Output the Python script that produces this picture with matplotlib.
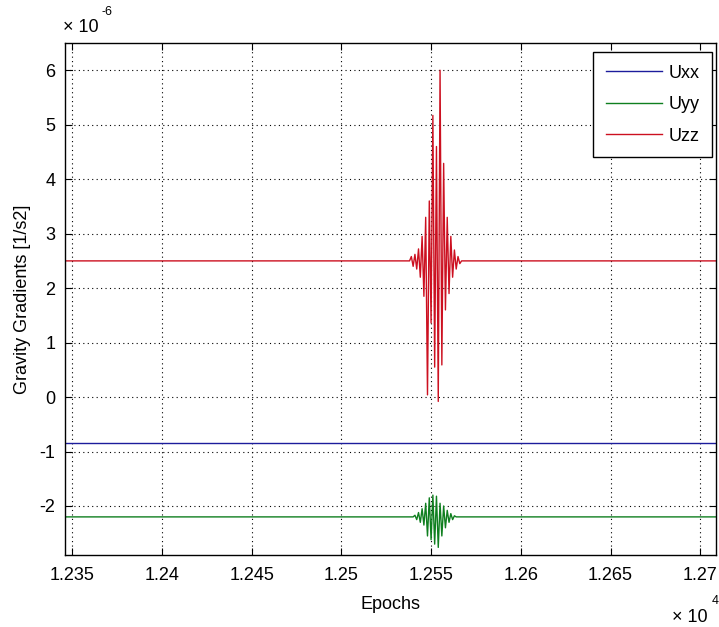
import numpy as np
import matplotlib
matplotlib.use('Agg')
import matplotlib.pyplot as plt
from matplotlib.ticker import FuncFormatter

plt.rcParams['font.family'] = ['Liberation Sans', 'DejaVu Sans']

# epochs and gradients (values given in units of 1e-6 1/s2)
uxx_epochs = [12300, 12750]
uxx_vals = [-0.84, -0.84]

uyy_epochs = [12300, 12540, 12541, 12542, 12543, 12544, 12545, 12546, 12547,
              12548, 12549, 12550, 12551, 12552, 12553, 12554, 12555, 12556,
              12557, 12558, 12559, 12560, 12561, 12562, 12563, 12564, 12750]
uyy_vals = [-2.20, -2.20, -2.17, -2.25, -2.12, -2.30, -2.05, -2.35, -1.95,
            -2.55, -1.85, -2.62, -1.80, -2.70, -1.82, -2.76, -1.95, -2.55,
            -2.00, -2.40, -2.08, -2.30, -2.14, -2.25, -2.18, -2.20, -2.20]

uzz_epochs = [12300, 12538, 12539, 12540, 12541, 12542, 12543, 12544, 12545,
              12546, 12547, 12548, 12549, 12550, 12551, 12552, 12553, 12554,
              12555, 12556, 12557, 12558, 12559, 12560, 12561, 12562, 12563,
              12564, 12565, 12566, 12567, 12750]
uzz_vals = [2.50, 2.50, 2.58, 2.40, 2.62, 2.35, 2.72, 2.20, 2.95,
            1.85, 3.30, 0.04, 3.60, 1.36, 5.17, 0.55, 4.60, -0.08,
            6.00, 0.59, 4.29, 1.60, 3.30, 1.90, 2.95, 2.20, 2.70,
            2.35, 2.58, 2.45, 2.50, 2.50]

xticks = [12350, 12400, 12450, 12500, 12550, 12600, 12650, 12700]
yticks = [-2, -1, 0, 1, 2, 3, 4, 5, 6]

fig = plt.figure(figsize=(7.19, 6.27), dpi=100)
ax = fig.add_axes([0.0904, 0.1148, 0.906, 0.8166])

s = 1e-6
ax.plot(uxx_epochs, np.array(uxx_vals) * s, color='#1c1c9c', lw=1, label='Uxx')
ax.plot(uyy_epochs, np.array(uyy_vals) * s, color='#0f7f1f', lw=1, label='Uyy')
ax.plot(uzz_epochs, np.array(uzz_vals) * s, color='#cc1020', lw=1, label='Uzz')

ax.set_xlim(12346, 12709)
ax.set_ylim(-2.9e-6, 6.5e-6)
ax.set_xticks(xticks)
ax.set_yticks([v * s for v in yticks])
ax.xaxis.set_major_formatter(FuncFormatter(lambda v, p: f'{v / 1e4:g}'))
ax.yaxis.set_major_formatter(FuncFormatter(lambda v, p: f'{round(v / s):d}'))
ax.tick_params(direction='in', top=True, right=True, length=5, labelsize=13)
ax.tick_params(axis='x', pad=8.5)
ax.tick_params(axis='y', pad=7)
ax.grid(True, color='black', linestyle=(0, (1, 3)), lw=0.8)
for sp in ax.spines.values():
    sp.set_linewidth(1)

ax.set_xlabel('Epochs', fontsize=13, labelpad=9)
ax.set_ylabel('Gravity Gradients [1/s2]', fontsize=13, labelpad=6)

fig.text(63 / 719, 1 - 36 / 627, '× 10', fontsize=13, ha='left', va='bottom')
fig.text(101 / 719, 1 - 18 / 627, '-6', fontsize=9, ha='left', va='bottom')
fig.text(672 / 719, 1 - 626 / 627, '× 10', fontsize=13, ha='left', va='bottom')
fig.text(712 / 719, 1 - 607 / 627, '4', fontsize=9, ha='left', va='bottom')

leg = ax.legend(loc='upper right', bbox_to_anchor=(0.9939, 0.9824),
                fontsize=13, labelspacing=0.8, handlelength=3.1,
                handletextpad=0.4, fancybox=False, edgecolor='black',
                framealpha=1, borderaxespad=0, borderpad=0.7)
leg.get_frame().set_linewidth(1)

fig.savefig('out.png', dpi=100)
